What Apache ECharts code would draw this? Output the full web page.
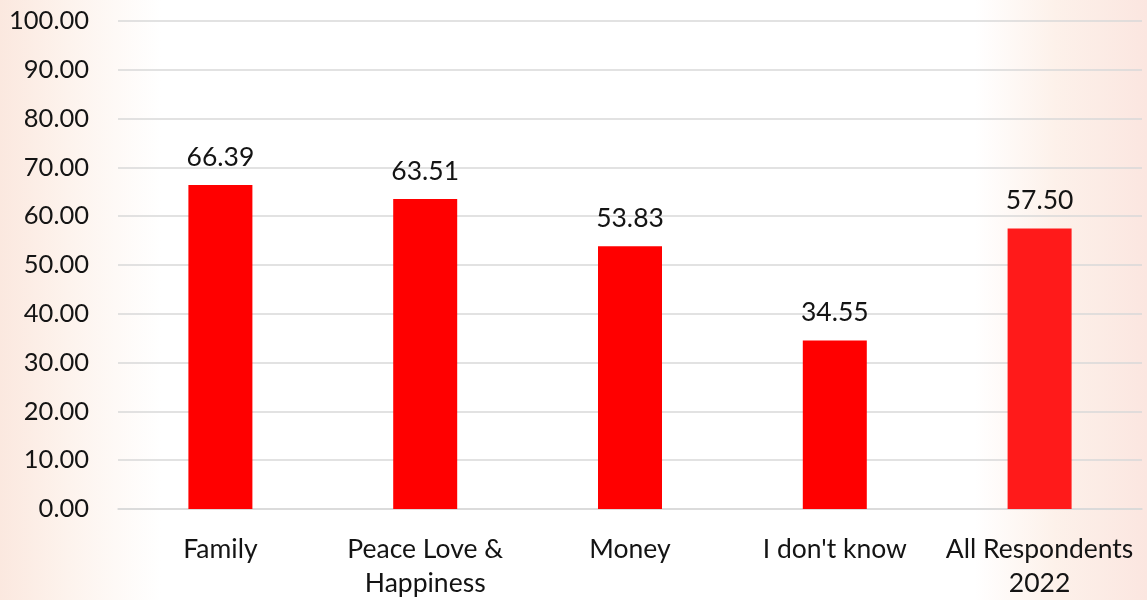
<!DOCTYPE html>
<html><head><meta charset="utf-8">
<script src="https://cdn.jsdelivr.net/npm/echarts@6/dist/echarts.min.js"></script>
<style>html,body{margin:0;padding:0;background:#fff}#c{width:1147px;height:600px}</style>
</head><body><div id="c"></div>
<script>
const categories = ['Family', 'Peace Love &\nHappiness', 'Money', "I don't know", 'All Respondents\n2022'];
const values = [66.39, 63.51, 53.83, 34.55, 57.50];
const yTicks = [0, 10, 20, 30, 40, 50, 60, 70, 80, 90, 100];

const chart = echarts.init(document.getElementById('c'), null, {renderer: 'canvas'});
const font = 'Lato, "Open Sans", sans-serif';
chart.setOption({
  backgroundColor: {
    type: 'linear', x: 0, y: 0, x2: 1, y2: 0,
    colorStops: [
      {offset: 0, color: '#fbe8df'},
      {offset: 0.06, color: '#fdf3ed'},
      {offset: 0.14, color: '#ffffff'},
      {offset: 0.85, color: '#ffffff'},
      {offset: 0.92, color: '#fdf1ea'},
      {offset: 1, color: '#fbe6e0'}
    ]
  },
  animation: false,
  grid: {left: 118, right: 5, top: 21, bottom: 88, containLabel: false},
  xAxis: {
    type: 'category', data: categories,
    axisLine: {show: true, lineStyle: {color: '#d9d9d9', width: 1.5}},
    axisTick: {show: false},
    axisLabel: {color: '#141414', fontSize: 26.5, fontFamily: font, margin: 23, lineHeight: 34, interval: 0}
  },
  yAxis: {
    type: 'value', min: yTicks[0], max: yTicks[yTicks.length - 1], interval: 10,
    axisLine: {show: false}, axisTick: {show: false},
    splitLine: {lineStyle: {color: '#d9d9d9', width: 1.5}},
    axisLabel: {color: '#141414', fontSize: 25.5, fontFamily: font, margin: 29,
      formatter: v => v.toFixed(2)}
  },
  series: [{
    type: 'bar', data: values.map((v, i) => ({value: v, itemStyle: {color: i === 4 ? '#ff1a1a' : '#ff0000'}})),
    barWidth: 64,
    label: {show: true, position: 'top', distance: 14, color: '#141414', fontSize: 26.5, fontFamily: font,
      formatter: p => p.value.toFixed(2)}
  }]
});
</script></body></html>
